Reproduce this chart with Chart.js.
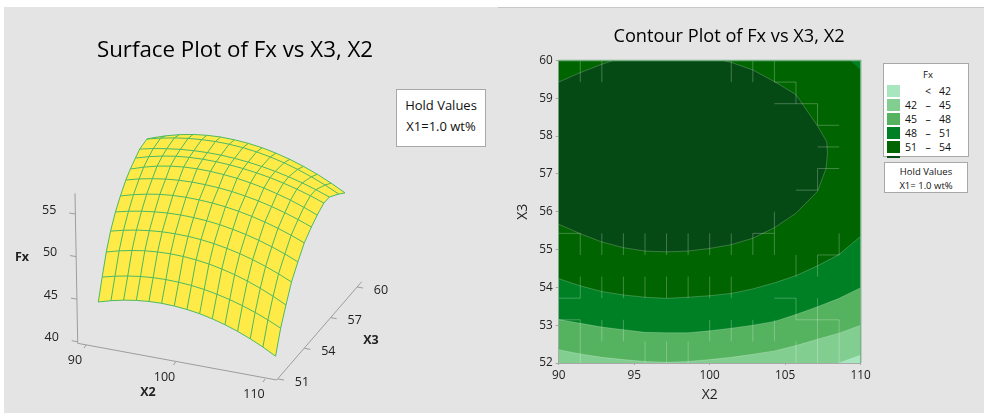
<!DOCTYPE html>
<html lang="en">
<head>
<meta charset="UTF-8">
<title>Surface and Contour Plot of Fx</title>
<script src="https://cdn.jsdelivr.net/npm/chart.js"></script>
<style>
  html, body { margin: 0; padding: 0; background: #fff; }
  body { width: 984px; height: 413px; position: relative; overflow: hidden; font-family: "Open Sans", sans-serif; color: #111; }
  .panel { position: absolute; background: #e4e4e4; }
  canvas { position: absolute; left: 0; top: 0; }
  .box { position: absolute; background: #fff; border: 1px solid #a8a8a8; box-sizing: border-box; text-align: center; white-space: nowrap; }
  .abs { position: absolute; white-space: nowrap; }
</style>
</head>
<body>
<div class="panel" style="left:4px;top:7px;width:980px;height:406px"></div>
<div class="abs" style="left:498px;top:7px;width:486px;height:1px;background:#c8c8c8"></div>
<div style="position:absolute;left:0;top:0;width:470px;height:413px"><canvas id="surfaceChart" width="470" height="413"></canvas></div>
<div style="position:absolute;left:490px;top:0;width:478px;height:413px"><canvas id="contourChart" width="478" height="413"></canvas></div>

<div class="box" style="left:396px;top:89px;width:90px;height:58px;font-size:13px;line-height:21px;padding-top:5px">Hold Values<br>X1=1.0 wt%</div>
<div class="box" id="legendBox" style="left:883px;top:63px;width:86px;height:94px;font-size:10.5px;overflow:visible"></div>
<div class="box" style="left:884px;top:162px;width:84px;height:31px;font-size:9.5px;line-height:13.5px;padding-top:2px">Hold Values<br>X1= 1.0 wt%</div>

<script>
// surface grid, X2 along rows and X3 going up row by row
const gridX2 = [90, 91.43, 92.86, 94.29, 95.71, 97.14, 98.57, 100, 101.43, 102.86, 104.29, 105.71, 107.14, 108.57, 110];
const fxRow0 = [43.83, 44.24, 44.56, 44.79, 44.92, 44.96, 44.90, 44.75, 44.51, 44.16, 43.73, 43.20, 42.58, 41.86, 41.04];
const fxRow1 = [46.06, 46.42, 46.70, 46.90, 47.02, 47.05, 47.00, 46.87, 46.66, 46.35, 45.98, 45.52, 44.98, 44.35, 43.64];
const fxRow2 = [48.27, 48.67, 48.97, 49.19, 49.31, 49.35, 49.29, 49.15, 48.92, 48.59, 48.18, 47.68, 47.09, 46.40, 45.63];
const fxRow3 = [49.96, 50.32, 50.60, 50.79, 50.91, 50.94, 50.89, 50.76, 50.55, 50.25, 49.88, 49.43, 48.89, 48.27, 47.57];
const fxRow4 = [51.33, 51.67, 51.93, 52.12, 52.23, 52.26, 52.21, 52.09, 51.89, 51.60, 51.25, 50.82, 50.31, 49.72, 49.05];
const fxRow5 = [52.32, 52.73, 53.05, 53.28, 53.41, 53.45, 53.40, 53.29, 53.10, 52.83, 52.49, 52.08, 51.59, 51.03, 50.39];
const fxRow6 = [53.21, 53.59, 53.88, 54.09, 54.21, 54.25, 54.20, 54.09, 53.91, 53.64, 53.32, 52.91, 52.44, 51.89, 51.27];
const fxRow7 = [53.68, 54.16, 54.54, 54.80, 54.95, 55.00, 54.95, 54.83, 54.64, 54.36, 54.02, 53.59, 53.10, 52.52, 51.86];
const fxRow8 = [54.05, 54.47, 54.80, 55.03, 55.16, 55.20, 55.16, 55.05, 54.87, 54.62, 54.31, 53.92, 53.47, 52.95, 52.35];
const fxRow9 = [54.33, 54.65, 54.89, 55.07, 55.17, 55.20, 55.16, 55.04, 54.86, 54.60, 54.28, 53.89, 53.43, 52.89, 52.28];
const fxRow10 = [54.20, 54.57, 54.85, 55.05, 55.16, 55.20, 55.14, 54.99, 54.75, 54.41, 53.98, 53.46, 52.84, 52.13, 51.32];
const fxRow11 = [53.45, 53.96, 54.36, 54.64, 54.80, 54.85, 54.78, 54.62, 54.36, 53.98, 53.51, 52.93, 52.26, 51.47, 50.58];
const fxRows = [fxRow0, fxRow1, fxRow2, fxRow3, fxRow4, fxRow5, fxRow6, fxRow7, fxRow8, fxRow9, fxRow10, fxRow11];

// how far back each X3 row sits in the view (0 = X3 51, 1 = X3 60)
const rowDepth = [0.11, 0.175, 0.243, 0.314, 0.396, 0.478, 0.569, 0.644, 0.729, 0.80, 0.92, 1];

// surface axis ticks
const fxTicks = [40, 45, 50, 55];
const x2Ticks = [90, 100, 110];
const x3Ticks = [51, 54, 57, 60];

// contour boundaries
const level42X2 = [108.5, 110];
const level42X3 = [52, 52.22];
const level45X2 = [90, 91.43, 92.86, 94.29, 95.71, 97.14, 98.57, 100, 101.43, 102.86, 104.29, 105.71, 107.14, 108.57, 110];
const level45X3 = [52.35, 52.24, 52.15, 52.09, 52.04, 52.02, 52.04, 52.09, 52.15, 52.23, 52.32, 52.46, 52.63, 52.79, 53.0];
const level48X3 = [53.15, 53.05, 52.95, 52.88, 52.81, 52.80, 52.80, 52.85, 52.92, 53.0, 53.1, 53.28, 53.49, 53.71, 53.99];
const level51X3 = [54.23, 54.04, 53.89, 53.8, 53.74, 53.71, 53.74, 53.78, 53.84, 53.96, 54.12, 54.31, 54.57, 54.87, 55.35];
const level54X2 = [90, 91.43, 92.86, 94.29, 95.71, 97.14, 98.57, 100, 101.43, 102.86, 104.29, 105.71, 107.14, 107.7, 107.8, 107.75, 107.14, 105.71, 104.29, 102.86, 101.43, 100.9, 93.6, 92.86, 91.43, 90];
const level54X3 = [55.67, 55.42, 55.2, 55.05, 54.96, 54.94, 54.96, 55.03, 55.13, 55.3, 55.58, 55.96, 56.54, 57.14, 57.54, 57.85, 58.27, 59.1, 59.44, 59.75, 59.95, 60, 60, 59.9, 59.68, 59.43];

// faint mesh seams in the contour fill, as grid index pairs [i0, j0, i1, j1]
const seams = [
  [1,13,1,14],[2,13,2,14],[8,13,8,14],[9,13,9,14],[10,13,10,14],[10,13,11,13],[11,12,11,13],[10,12,12,12],
  [12,11,12,12],[12,11,13,11],[12,10,13,10],[12,9,13,9],[12,8,12,9],[11,8,12,8],[10,5,10,7],
  [1,5,1,6],[2,5,2,6],[3,5,3,6],[4,5,4,6],[5,5,5,6],[6,5,6,6],[7,5,7,6],[8,5,8,6],[9,5,9,6],[0,6,1,6],[9,6,10,6],
  [13,5,13,6],[11,4,11,5],[12,4,12,5],[12,5,13,5],
  [1,3,1,4],[2,3,2,4],[3,3,3,4],[4,3,4,4],[5,3,5,4],[6,3,6,4],[7,3,7,4],[8,3,8,4],[0,3,1,3],[10,3,11,3],
  [11,2,11,3],[11,2,13,2],[12,1,12,3],[13,0,13,2],[1,0,1,2],[0,2,1,2],[2,1,2,2],[3,1,3,2],
  [4,0,4,1],[5,0,5,1],[6,0,6,1],[7,1,7,2],[8,1,8,2],[9,1,9,2],[10,1,10,2],[11,0,11,1],[12,0,12,1]
];

// legend
const legendLow = ['', '42', '45', '48', '51'];
const legendHigh = ['42', '45', '48', '51', '54'];
const bandColors = ['#a8e6bf', '#82ce91', '#55b25f', '#008025', '#006400', '#054a14'];

const surfaceYellow = '#ffeb47';
const surfaceLine = '#4db860';
const axisGray = '#9c9c9c';
const breakPt = { x: NaN, y: NaN };

// view projection of the surface, in canvas pixels
function project(x2, v, fx) {
  const u = (x2 - 90) / 20;
  return {
    x: 91.7 + 175.3 * u + (60 + 18 * u) * v,
    y: 344.6 + 30.6 * u - 92.7 * v - 8.47 * (fx - 40)
  };
}

function lineSet(data, color, width, order, extra) {
  return Object.assign({
    data: data, showLine: true, borderColor: color, borderWidth: width,
    pointRadius: 0, order: order, fill: false, tension: 0
  }, extra || {});
}

// --- surface plot ---
const surfaceSets = [];
const rowPoints = fxRows.map((row, j) => row.map((fx, i) => project(gridX2[i], rowDepth[j], fx)));
// strips painted back to front
for (let j = rowPoints.length - 2; j >= 0; j--) {
  const strip = rowPoints[j].concat(rowPoints[j + 1].slice().reverse());
  surfaceSets.push(lineSet(strip, surfaceYellow, 0, 100 + j, { fill: 'shape', backgroundColor: surfaceYellow }));
}
rowPoints.forEach(pts => surfaceSets.push(lineSet(pts, surfaceLine, 1, 50)));
gridX2.forEach((x2, i) => surfaceSets.push(lineSet(rowPoints.map(r => r[i]), surfaceLine, 1, 50)));

// 3D frame lines
const fxAxis = { bottom: [77.7, 341.7], top: [75.2, 214], end: [75, 193.3], corner: [77.7, 343.3] };
const x2Axis = { from: [86, 345], to: [265, 379], end: [276.7, 380] };
const x3Axis = { from: [278, 379], to: [357, 287], end: [361.7, 281.7] };
const fxAt = v => { const t = (v - 40) / 15; return [fxAxis.bottom[0] + (fxAxis.top[0] - fxAxis.bottom[0]) * t, fxAxis.bottom[1] + (fxAxis.top[1] - fxAxis.bottom[1]) * t]; };
const x2At = v => { const t = (v - 90) / 20; return [x2Axis.from[0] + (x2Axis.to[0] - x2Axis.from[0]) * t, x2Axis.from[1] + (x2Axis.to[1] - x2Axis.from[1]) * t]; };
const x3At = v => { const t = (v - 51) / 9; return [x3Axis.from[0] + (x3Axis.to[0] - x3Axis.from[0]) * t, x3Axis.from[1] + (x3Axis.to[1] - x3Axis.from[1]) * t]; };
const pt = a => ({ x: a[0], y: a[1] });
const frame = [pt(fxAxis.end), pt(fxAxis.corner), pt(x2Axis.end), pt(x3Axis.end), breakPt];
fxTicks.forEach(v => { const p = fxAt(v); frame.push(pt(p), { x: p[0] - 6, y: p[1] - 1 }, breakPt); });
x2Ticks.forEach(v => { const p = x2At(v); frame.push(pt(p), { x: p[0] - 2, y: p[1] + 3 }, breakPt); });
x3Ticks.forEach(v => { const p = x3At(v); frame.push(pt(p), { x: p[0] + 6, y: p[1] + 1 }, breakPt); });
surfaceSets.push(lineSet(frame, axisGray, 1, 200, { spanGaps: false }));

const tickFont = '12.5px "Open Sans", sans-serif';
const boldFont = 'bold 12.5px "Open Sans", sans-serif';
const surfaceLabels = [];
fxTicks.forEach(v => { const p = fxAt(v); surfaceLabels.push([String(v), p[0] - 26, p[1] - 4, tickFont]); });
x2Ticks.forEach(v => { const p = x2At(v); surfaceLabels.push([String(v), p[0] - 11, p[1] + 15, tickFont]); });
x3Ticks.forEach(v => { const p = x3At(v); surfaceLabels.push([String(v), p[0] + 24, p[1] + 3, tickFont]); });
surfaceLabels.push(['Fx', 22, 257, boldFont], ['X2', 148, 392, boldFont], ['X3', 371, 340, boldFont]);

const surfaceText = {
  id: 'surfaceText',
  afterDatasetsDraw(chart) {
    const ctx = chart.ctx;
    ctx.save();
    ctx.fillStyle = '#222';
    ctx.textAlign = 'center';
    ctx.textBaseline = 'middle';
    surfaceLabels.forEach(l => {
      ctx.font = l[3];
      ctx.fillText(l[0], chart.scales.x.getPixelForValue(l[1]), chart.scales.y.getPixelForValue(l[2]));
    });
    ctx.restore();
  }
};

new Chart(document.getElementById('surfaceChart'), {
  type: 'scatter',
  data: { datasets: surfaceSets },
  plugins: [surfaceText],
  options: {
    responsive: false,
    animation: false,
    events: [],
    layout: { padding: 0 },
    plugins: {
      legend: { display: false },
      tooltip: { enabled: false },
      title: {
        display: true,
        text: 'Surface Plot of Fx vs X3, X2',
        color: '#000',
        font: { family: '"Open Sans", sans-serif', size: 22.3, weight: '500', lineHeight: 1.2 },
        padding: { top: 37, bottom: 6.24 }
      }
    },
    scales: {
      x: { type: 'linear', display: false, min: 0, max: 470 },
      y: { type: 'linear', display: false, min: 70, max: 413, reverse: true }
    }
  }
});

// --- contour plot ---
const zip = (xs, ys) => xs.map((x, i) => ({ x: x, y: ys[i] }));
const corner = (x, y) => ({ x: x, y: y });
const contourEdge = 'rgba(255,255,255,0.28)';

const band42 = [corner(90, 52)].concat(zip(level42X2, level42X3), [corner(110, 60), corner(90, 60)]);
const band45 = zip(level45X2, level45X3).concat([corner(110, 60), corner(90, 60)]);
const band48 = zip(level45X2, level48X3).concat([corner(110, 60), corner(90, 60)]);
const band51 = zip(level45X2, level51X3).concat([corner(110, 59.75), corner(109.3, 60), corner(90, 60)]);
const band54 = zip(level54X2, level54X3);

const seamPts = [];
seams.forEach(s => {
  seamPts.push({ x: 90 + s[0] * 20 / 14, y: 52 + s[1] * 8 / 14 }, { x: 90 + s[2] * 20 / 14, y: 52 + s[3] * 8 / 14 }, breakPt);
});

const contourSets = [
  lineSet([corner(90, 52), corner(110, 52), corner(110, 60), corner(90, 60)], bandColors[0], 0, 60, { fill: 'shape', backgroundColor: bandColors[0] }),
  lineSet(band42, contourEdge, 0, 55, { fill: 'shape', backgroundColor: bandColors[1] }),
  lineSet(band45, contourEdge, 0, 50, { fill: 'shape', backgroundColor: bandColors[2] }),
  lineSet(band48, contourEdge, 0, 45, { fill: 'shape', backgroundColor: bandColors[3] }),
  lineSet(band51, contourEdge, 0, 40, { fill: 'shape', backgroundColor: bandColors[4] }),
  lineSet(band54, contourEdge, 0, 35, { fill: 'shape', backgroundColor: bandColors[5] }),
  lineSet(zip(level45X2, level45X3), contourEdge, 0.8, 30),
  lineSet(zip(level45X2, level48X3), contourEdge, 0.8, 30),
  lineSet(zip(level45X2, level51X3), contourEdge, 0.8, 30),
  lineSet(band54, contourEdge, 0.8, 30),
  lineSet(seamPts, 'rgba(255,255,255,0.25)', 1, 25, { spanGaps: false }),
  lineSet([corner(90, 60), corner(110, 60), corner(110, 52)], 'rgba(118,176,130,0.9)', 1.5, 20, { clip: false })
];

const axisFont = { family: '"Open Sans", sans-serif', size: 11.8 };
const axisTitleFont = { family: '"Open Sans", sans-serif', size: 14 };

new Chart(document.getElementById('contourChart'), {
  type: 'scatter',
  data: { datasets: contourSets },
  options: {
    responsive: false,
    animation: false,
    events: [],
    plugins: {
      legend: { display: false },
      tooltip: { enabled: false },
      title: {
        display: true,
        text: 'Contour Plot of Fx vs X3, X2',
        color: '#000',
        font: { family: '"Open Sans", sans-serif', size: 18.2, weight: '500', lineHeight: 1.2 },
        padding: { top: 26, bottom: 12.66 }
      }
    },
    scales: {
      x: {
        type: 'linear', min: 90, max: 110,
        afterFit(s) { s.height = 50; },
        grid: { drawOnChartArea: false, tickLength: 2, color: '#a8a8a8' },
        border: { color: '#a8a8a8' },
        ticks: { stepSize: 5, color: '#222', maxRotation: 0, font: axisFont, padding: 4 },
        title: { display: true, text: 'X2', color: '#222', font: axisTitleFont, padding: { top: 2, bottom: 9.6 } }
      },
      y: {
        type: 'linear', min: 52, max: 60,
        afterFit(s) { s.width = 68.7; },
        grid: { drawOnChartArea: false, tickLength: 3, color: '#a8a8a8' },
        border: { color: '#a8a8a8' },
        ticks: { stepSize: 1, color: '#222', font: axisFont, padding: 3 },
        title: { display: true, text: 'X3', color: '#222', font: axisTitleFont, padding: { top: 24.6, bottom: 0 } }
      },
      // empty right axis keeps room for the legend so the title still centres on the whole canvas
      yLegendRoom: {
        axis: 'y', position: 'right', min: 0, max: 1,
        afterFit(s) { s.width = 107.3; },
        grid: { display: false },
        border: { display: false },
        ticks: { display: false }
      }
    }
  }
});

// legend box built from the arrays
const legendBox = document.getElementById('legendBox');
function addText(txt, cx, cy, size) {
  const el = document.createElement('span');
  el.className = 'abs';
  el.textContent = txt;
  el.style.left = (cx - 883 - 1) + 'px';
  el.style.top = (cy - 63 - 1) + 'px';
  el.style.transform = 'translate(-50%,-50%)';
  if (size) el.style.fontSize = size + 'px';
  legendBox.appendChild(el);
}
addText('Fx', 928, 74, 9.5);
legendHigh.forEach((high, k) => {
  const y = 85 + k * 14;
  const sw = document.createElement('div');
  sw.className = 'abs';
  sw.style.cssText = 'left:3px;top:' + (y - 64) + 'px;width:13px;height:12px;background:' + bandColors[k];
  legendBox.appendChild(sw);
  addText(legendLow[k] ? legendLow[k] : '', 911, y + 6);
  addText(legendLow[k] ? '\u2013' : '<', 928, y + 6);
  addText(high, 945, y + 6);
});
const peek = document.createElement('div');
peek.className = 'abs';
peek.style.cssText = 'left:3px;top:92px;width:13px;height:2px;background:' + bandColors[5];
legendBox.appendChild(peek);
</script>
</body>
</html>
